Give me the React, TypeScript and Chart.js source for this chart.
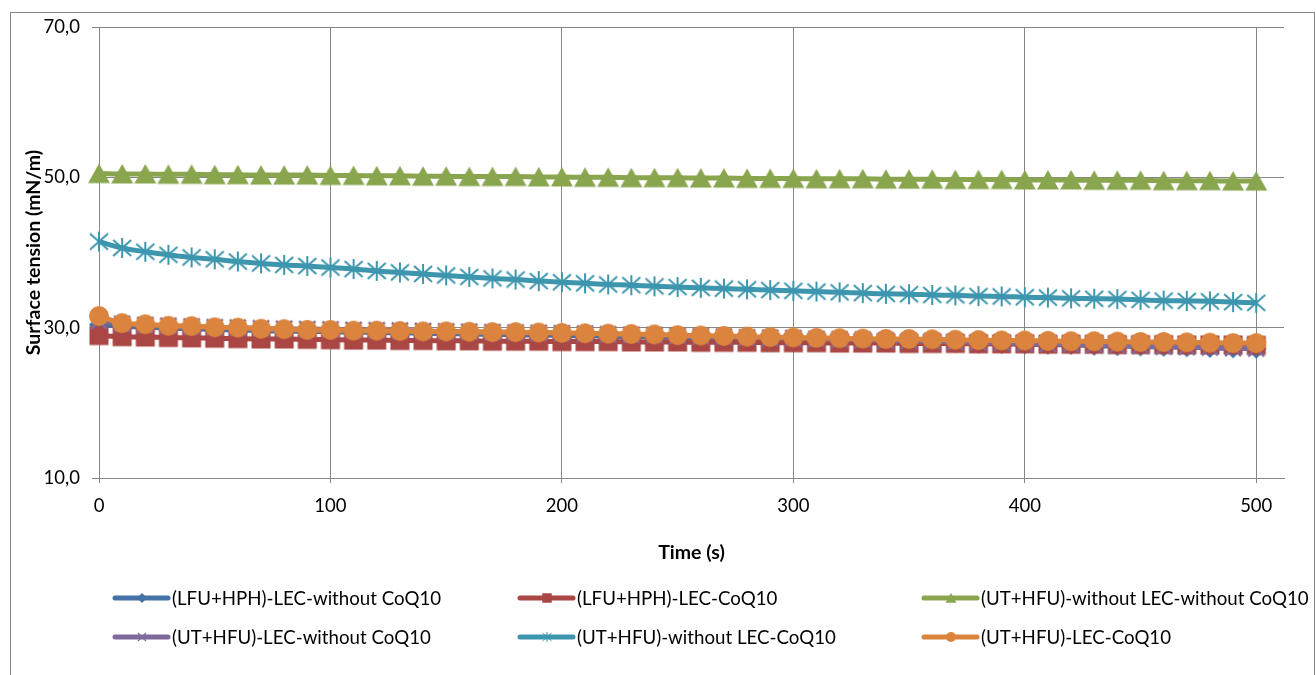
import React, { useEffect, useRef } from 'react';
import { Chart, registerables } from 'chart.js';

Chart.register(...registerables);

// ---- Data ----
const TIME_S = [
  0, 10, 20, 30, 40, 50, 60, 70, 80, 90,
  100, 110, 120, 130, 140, 150, 160, 170, 180, 190,
  200, 210, 220, 230, 240, 250, 260, 270, 280, 290,
  300, 310, 320, 330, 340, 350, 360, 370, 380, 390,
  400, 410, 420, 430, 440, 450, 460, 470, 480, 490,
  500,
];

const X_TICKS = [0, 100, 200, 300, 400, 500];

const SERIES_NAMES = [
  '(LFU+HPH)-LEC-without CoQ10',
  '(LFU+HPH)-LEC-CoQ10',
  '(UT+HFU)-without LEC-without CoQ10',
  '(UT+HFU)-LEC-without CoQ10',
  '(UT+HFU)-without LEC-CoQ10',
  '(UT+HFU)-LEC-CoQ10',
];

const LFU_HPH_LEC_NO_Q10 = [
  30.4, 30.2, 30.05, 29.95, 29.85, 29.75, 29.7, 29.6, 29.55, 29.5,
  29.45, 29.4, 29.35, 29.3, 29.25, 29.2, 29.15, 29.1, 29.05, 29.0,
  28.95, 28.9, 28.85, 28.8, 28.75, 28.7, 28.65, 28.6, 28.5, 28.45,
  28.4, 28.35, 28.3, 28.2, 28.15, 28.1, 28.05, 28.0, 27.9, 27.85,
  27.8, 27.75, 27.7, 27.6, 27.55, 27.5, 27.45, 27.4, 27.3, 27.25,
  27.2,
];

const LFU_HPH_LEC_Q10 = [
  28.95, 28.8, 28.75, 28.7, 28.65, 28.6, 28.55, 28.5, 28.5, 28.45,
  28.4, 28.35, 28.35, 28.3, 28.3, 28.25, 28.25, 28.2, 28.2, 28.2,
  28.15, 28.15, 28.15, 28.1, 28.1, 28.1, 28.05, 28.05, 28.05, 28.0,
  28.0, 28.0, 27.95, 27.95, 27.95, 27.9, 27.9, 27.9, 27.85, 27.85,
  27.85, 27.8, 27.8, 27.8, 27.75, 27.75, 27.75, 27.7, 27.7, 27.7,
  27.65,
];

const UT_HFU_NO_LEC_NO_Q10 = [
  50.5, 50.45, 50.45, 50.4, 50.4, 50.35, 50.35, 50.3, 50.3, 50.3,
  50.25, 50.25, 50.2, 50.2, 50.15, 50.15, 50.1, 50.1, 50.1, 50.05,
  50.05, 50.0, 50.0, 49.95, 49.95, 49.95, 49.9, 49.9, 49.85, 49.85,
  49.85, 49.8, 49.8, 49.8, 49.75, 49.75, 49.75, 49.7, 49.7, 49.7,
  49.65, 49.65, 49.65, 49.6, 49.6, 49.6, 49.55, 49.55, 49.55, 49.5,
  49.5,
];

const UT_HFU_LEC_NO_Q10 = [
  30.9, 30.5, 30.35, 30.25, 30.15, 30.05, 30.0, 29.9, 29.85, 29.8,
  29.75, 29.7, 29.65, 29.6, 29.55, 29.5, 29.45, 29.4, 29.35, 29.3,
  29.25, 29.2, 29.1, 29.05, 29.0, 28.9, 28.85, 28.8, 28.7, 28.65,
  28.6, 28.5, 28.45, 28.4, 28.3, 28.25, 28.2, 28.1, 28.05, 28.0,
  27.9, 27.85, 27.8, 27.7, 27.65, 27.6, 27.5, 27.45, 27.4, 27.3,
  27.25,
];

const UT_HFU_NO_LEC_Q10 = [
  41.45, 40.6, 40.1, 39.7, 39.35, 39.1, 38.8, 38.55, 38.35, 38.2,
  38.0, 37.8, 37.55, 37.35, 37.15, 36.95, 36.75, 36.55, 36.4, 36.2,
  36.05, 35.9, 35.75, 35.65, 35.5, 35.4, 35.3, 35.2, 35.1, 35.0,
  34.9, 34.8, 34.7, 34.6, 34.5, 34.45, 34.35, 34.3, 34.2, 34.15,
  34.05, 34.0, 33.9, 33.85, 33.8, 33.7, 33.6, 33.55, 33.5, 33.4,
  33.3,
];

const UT_HFU_LEC_Q10 = [
  31.55, 30.6, 30.45, 30.25, 30.2, 30.05, 30.0, 29.85, 29.8, 29.7,
  29.7, 29.6, 29.6, 29.55, 29.5, 29.5, 29.45, 29.4, 29.4, 29.35,
  29.3, 29.25, 29.2, 29.15, 29.1, 29.0, 28.95, 28.9, 28.8, 28.75,
  28.7, 28.65, 28.6, 28.55, 28.5, 28.5, 28.45, 28.4, 28.35, 28.3,
  28.3, 28.25, 28.2, 28.2, 28.15, 28.1, 28.1, 28.05, 28.0, 27.95,
  27.95,
];

const SERIES_VALUES = [
  LFU_HPH_LEC_NO_Q10,
  LFU_HPH_LEC_Q10,
  UT_HFU_NO_LEC_NO_Q10,
  UT_HFU_LEC_NO_Q10,
  UT_HFU_NO_LEC_Q10,
  UT_HFU_LEC_Q10,
];

const SERIES_COLORS = ['#4572A7', '#AA4643', '#89A54E', '#80699B', '#3D96AE', '#DB843D'];
const SERIES_MARKERS = ['diamond', 'square', 'triangle', 'x', 'star', 'circle'];

const Y_MIN = 10;
const Y_MAX = 70;
const Y_STEP = 20;
const X_MIN = 0;
const X_MAX = 512;
const X_STEP = 100;

const X_TITLE = 'Time (s)';
const Y_TITLE = 'Surface tension (mN/m)';

const FONT = 'Lato';
const GRID = '#868686';

function makeMarker(shape: string, color: string, k: number): HTMLCanvasElement {
  const s = 2 * Math.ceil(13 * k);
  const c = document.createElement('canvas');
  c.width = s;
  c.height = s;
  const g = c.getContext('2d') as CanvasRenderingContext2D;
  g.translate(s / 2, s / 2);
  g.scale(k, k);
  g.fillStyle = color;
  g.strokeStyle = color;
  g.lineCap = 'butt';
  switch (shape) {
    case 'diamond':
      g.beginPath();
      g.moveTo(0, -10);
      g.lineTo(10, 0);
      g.lineTo(0, 10);
      g.lineTo(-10, 0);
      g.closePath();
      g.fill();
      break;
    case 'square':
      g.fillRect(-9.5, -9.5, 19, 19);
      break;
    case 'triangle':
      g.beginPath();
      g.moveTo(0, -10);
      g.lineTo(11, 9.5);
      g.lineTo(-11, 9.5);
      g.closePath();
      g.fill();
      break;
    case 'x':
      g.lineWidth = 2.5;
      g.beginPath();
      g.moveTo(-8, -8);
      g.lineTo(8, 8);
      g.moveTo(8, -8);
      g.lineTo(-8, 8);
      g.stroke();
      break;
    case 'star':
      g.lineWidth = 2;
      g.beginPath();
      g.moveTo(0, -10);
      g.lineTo(0, 10);
      g.moveTo(-9, -8);
      g.lineTo(9, 8);
      g.moveTo(9, -8);
      g.lineTo(-9, 8);
      g.stroke();
      break;
    case 'circle':
    default:
      g.beginPath();
      g.arc(0, 0, 10, 0, Math.PI * 2);
      g.fill();
      break;
  }
  return c;
}

const LEGEND_COL_X = [113, 518, 922];
const LEGEND_ROW_Y = [598, 637];

export default function App() {
  const ref = useRef<HTMLCanvasElement | null>(null);

  useEffect(() => {
    document.body.style.margin = '0';
    const canvas = ref.current;
    if (!canvas) return;

    const plotMarkers = SERIES_MARKERS.map((m, i) => makeMarker(m, SERIES_COLORS[i], 1));
    const legendMarkers = SERIES_MARKERS.map((m, i) => makeMarker(m, SERIES_COLORS[i], 0.5));

    const framePlugin = {
      id: 'frame',
      beforeDraw(chart: any) {
        const ctx = chart.ctx as CanvasRenderingContext2D;
        ctx.save();
        ctx.fillStyle = '#ffffff';
        ctx.fillRect(0, 0, chart.width, chart.height);
        ctx.strokeStyle = GRID;
        ctx.lineWidth = 1;
        ctx.strokeRect(10.5, 12.5, 1304, 700);
        ctx.restore();
      },
    };

    const legendPlugin = {
      id: 'excelLegend',
      afterDraw(chart: any) {
        const ctx = chart.ctx as CanvasRenderingContext2D;
        ctx.save();
        ctx.font = `18.7px ${FONT}`;
        ctx.textBaseline = 'middle';
        ctx.textAlign = 'left';
        SERIES_NAMES.forEach((name, i) => {
          const x = LEGEND_COL_X[i % 3];
          const y = LEGEND_ROW_Y[Math.floor(i / 3)];
          ctx.strokeStyle = SERIES_COLORS[i];
          ctx.lineWidth = 5;
          ctx.lineCap = 'round';
          ctx.beginPath();
          ctx.moveTo(x + 2, y);
          ctx.lineTo(x + 55, y);
          ctx.stroke();
          const mk = legendMarkers[i];
          ctx.drawImage(mk, Math.round(x + 28.5 - mk.width / 2), Math.round(y - mk.height / 2));
          ctx.fillStyle = '#000000';
          ctx.fillText(name, x + 59, y + 1);
        });
        ctx.restore();
      },
    };

    const datasets = SERIES_NAMES.map((name, i) => ({
      label: name,
      data: TIME_S.map((t, j) => ({ x: t, y: SERIES_VALUES[i][j] })),
      borderColor: SERIES_COLORS[i],
      backgroundColor: SERIES_COLORS[i],
      borderWidth: 5,
      tension: 0.4,
      pointStyle: plotMarkers[i],
      pointRadius: 1,
      pointHoverRadius: 1,
      clip: false,
      order: SERIES_NAMES.length - 1 - i,
    }));

    const chart = new Chart(canvas, {
      type: 'line',
      data: { datasets },
      options: {
        animation: false,
        responsive: false,
        devicePixelRatio: 1,
        layout: { padding: { left: 20, top: 27, right: 32, bottom: 107 } },
        plugins: {
          legend: { display: false },
          tooltip: { enabled: false },
        },
        scales: {
          x: {
            type: 'linear',
            min: X_MIN,
            max: X_MAX,
            afterBuildTicks: (scale: any) => {
              scale.ticks = X_TICKS.map((v) => ({ value: v }));
            },
            afterFit: (scale: any) => {
              scale.height = 90;
            },
            ticks: {
              stepSize: X_STEP,
              color: '#000',
              font: { family: FONT, size: 18.5 },
              padding: 12,
              maxRotation: 0,
              minRotation: 0,
              autoSkip: false,
            },
            grid: {
              color: GRID,
              tickColor: GRID,
              lineWidth: 1,
              tickLength: 5,
            },
            border: { color: GRID, width: 1 },
            title: {
              display: true,
              text: X_TITLE,
              color: '#000',
              font: { family: FONT, size: 19.5, weight: 'bold' },
              padding: { top: 4, bottom: 4 },
            },
          },
          y: {
            type: 'linear',
            min: Y_MIN,
            max: Y_MAX,
            afterFit: (scale: any) => {
              scale.width = 79;
            },
            ticks: {
              stepSize: Y_STEP,
              color: '#000',
              font: { family: FONT, size: 18.5 },
              padding: 12,
              callback: (v: any) => Number(v).toFixed(1).replace('.', ','),
            },
            grid: { color: GRID, lineWidth: 1, tickLength: 7, tickColor: GRID },
            border: { color: GRID, width: 1 },
            title: {
              display: true,
              text: Y_TITLE,
              color: '#000',
              font: { family: FONT, size: 19.5, weight: 'bold' },
              padding: { top: 2, bottom: 4 },
            },
          },
        },
      },
      plugins: [framePlugin, legendPlugin],
    } as any);

    return () => {
      chart.destroy();
    };
  }, []);

  return (
    <div style={{ width: 1316, height: 675, position: 'relative', overflow: 'hidden' }}>
      <canvas ref={ref} width={1316} height={675} style={{ display: 'block' }} />
    </div>
  );
}
